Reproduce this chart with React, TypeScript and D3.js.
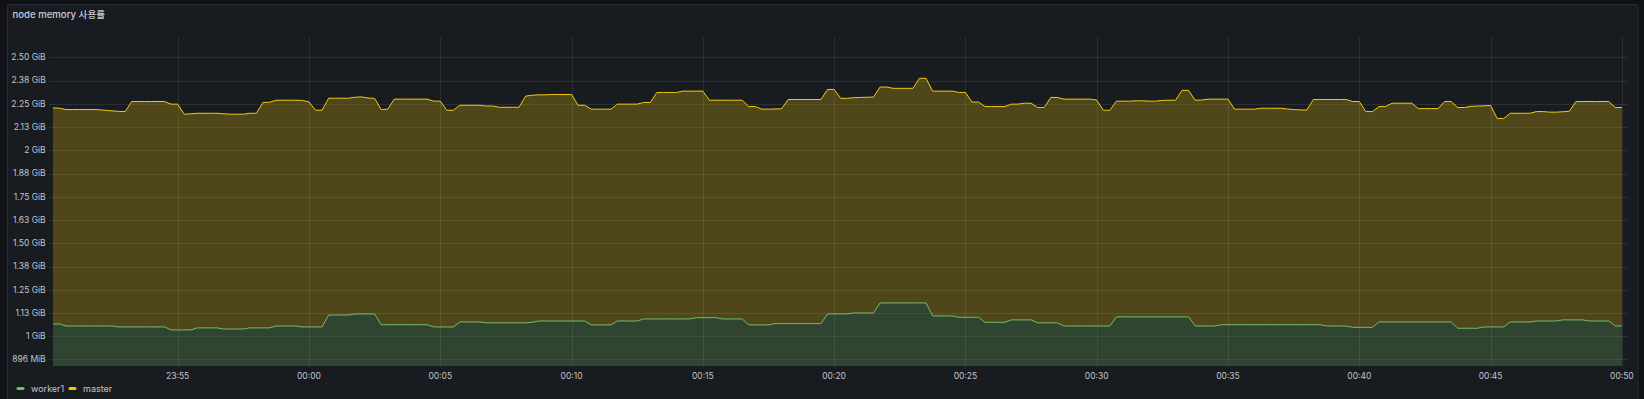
import { area, line, scaleLinear, scaleTime, timeFormat, timeMinute } from 'd3'

// samples every 15s, values in GiB
const workerValues = [
  1.066, 1.066, 1.055, 1.055, 1.055, 1.055, 1.055, 1.055, 1.055, 1.055,
  1.05, 1.05, 1.05, 1.05, 1.05, 1.05, 1.05, 1.05, 1.034, 1.034,
  1.034, 1.034, 1.045, 1.045, 1.045, 1.045, 1.039, 1.039, 1.039, 1.039,
  1.045, 1.045, 1.045, 1.045, 1.055, 1.055, 1.055, 1.055, 1.05, 1.05,
  1.05, 1.05, 1.114, 1.114, 1.114, 1.114, 1.12, 1.12, 1.12, 1.12,
  1.062, 1.062, 1.062, 1.062, 1.062, 1.062, 1.062, 1.062, 1.05, 1.05,
  1.05, 1.05, 1.077, 1.077, 1.077, 1.077, 1.072, 1.072, 1.072, 1.072,
  1.072, 1.072, 1.072, 1.075, 1.082, 1.082, 1.082, 1.082, 1.082, 1.082,
  1.082, 1.082, 1.061, 1.061, 1.061, 1.061, 1.082, 1.082, 1.082, 1.082,
  1.093, 1.093, 1.093, 1.093, 1.093, 1.093, 1.093, 1.093, 1.1, 1.1,
  1.1, 1.1, 1.093, 1.093, 1.093, 1.093, 1.061, 1.061, 1.061, 1.061,
  1.068, 1.068, 1.068, 1.068, 1.068, 1.068, 1.068, 1.068, 1.12, 1.12,
  1.12, 1.12, 1.125, 1.125, 1.125, 1.125, 1.179, 1.179, 1.179, 1.179,
  1.179, 1.179, 1.179, 1.179, 1.109, 1.109, 1.109, 1.109, 1.102, 1.102,
  1.102, 1.102, 1.075, 1.075, 1.075, 1.075, 1.088, 1.088, 1.088, 1.088,
  1.072, 1.072, 1.072, 1.072, 1.055, 1.055, 1.055, 1.055, 1.055, 1.055,
  1.055, 1.055, 1.104, 1.104, 1.104, 1.104, 1.104, 1.104, 1.104, 1.104,
  1.104, 1.104, 1.104, 1.104, 1.055, 1.055, 1.055, 1.055, 1.062, 1.062,
  1.062, 1.062, 1.062, 1.062, 1.062, 1.062, 1.062, 1.062, 1.062, 1.062,
  1.062, 1.062, 1.062, 1.062, 1.055, 1.055, 1.055, 1.055, 1.048, 1.048,
  1.048, 1.048, 1.077, 1.077, 1.077, 1.077, 1.077, 1.077, 1.077, 1.077,
  1.077, 1.077, 1.077, 1.077, 1.043, 1.043, 1.043, 1.043, 1.05, 1.05,
  1.05, 1.05, 1.077, 1.077, 1.077, 1.077, 1.082, 1.082, 1.082, 1.082,
  1.088, 1.088, 1.088, 1.088, 1.082, 1.082, 1.082, 1.082, 1.055, 1.055,
]

// master is stacked on worker1, these are the stacked tops
const masterStacked = [
  2.228, 2.226, 2.219, 2.219, 2.219, 2.219, 2.219, 2.218, 2.215, 2.212,
  2.209, 2.208, 2.262, 2.262, 2.262, 2.262, 2.262, 2.262, 2.248, 2.248,
  2.194, 2.196, 2.199, 2.199, 2.199, 2.199, 2.196, 2.194, 2.194, 2.194,
  2.199, 2.199, 2.257, 2.258, 2.269, 2.269, 2.269, 2.269, 2.268, 2.26,
  2.215, 2.216, 2.28, 2.28, 2.28, 2.28, 2.285, 2.287, 2.281, 2.279,
  2.219, 2.221, 2.275, 2.275, 2.275, 2.275, 2.275, 2.275, 2.264, 2.264,
  2.215, 2.215, 2.242, 2.242, 2.242, 2.242, 2.238, 2.238, 2.231, 2.231,
  2.231, 2.231, 2.291, 2.296, 2.298, 2.298, 2.3, 2.3, 2.3, 2.3,
  2.242, 2.242, 2.221, 2.221, 2.221, 2.221, 2.248, 2.248, 2.248, 2.248,
  2.257, 2.257, 2.311, 2.311, 2.311, 2.311, 2.318, 2.318, 2.318, 2.318,
  2.269, 2.269, 2.269, 2.269, 2.269, 2.269, 2.235, 2.235, 2.221, 2.221,
  2.222, 2.223, 2.273, 2.273, 2.273, 2.273, 2.273, 2.273, 2.327, 2.327,
  2.279, 2.279, 2.283, 2.284, 2.285, 2.286, 2.34, 2.34, 2.333, 2.333,
  2.333, 2.333, 2.387, 2.387, 2.318, 2.318, 2.318, 2.318, 2.311, 2.311,
  2.259, 2.259, 2.235, 2.235, 2.235, 2.235, 2.248, 2.248, 2.253, 2.253,
  2.23, 2.23, 2.284, 2.284, 2.275, 2.275, 2.275, 2.275, 2.275, 2.27,
  2.215, 2.215, 2.264, 2.264, 2.264, 2.266, 2.266, 2.264, 2.264, 2.268,
  2.269, 2.269, 2.322, 2.322, 2.269, 2.27, 2.275, 2.275, 2.275, 2.275,
  2.221, 2.221, 2.221, 2.221, 2.226, 2.226, 2.226, 2.226, 2.222, 2.219,
  2.217, 2.216, 2.273, 2.273, 2.273, 2.273, 2.273, 2.273, 2.262, 2.262,
  2.208, 2.208, 2.235, 2.235, 2.253, 2.253, 2.253, 2.253, 2.224, 2.224,
  2.224, 2.224, 2.262, 2.262, 2.23, 2.23, 2.236, 2.238, 2.239, 2.241,
  2.171, 2.171, 2.199, 2.199, 2.199, 2.199, 2.208, 2.208, 2.205, 2.205,
  2.207, 2.21, 2.262, 2.262, 2.262, 2.262, 2.262, 2.262, 2.23, 2.23,
]

const yTickValues = [0.875, 1, 1.125, 1.25, 1.375, 1.5, 1.625, 1.75, 1.875, 2, 2.125, 2.25, 2.375, 2.5]
const yTickLabels = [
  '896 MiB', '1 GiB', '1.13 GiB', '1.25 GiB', '1.38 GiB', '1.50 GiB', '1.63 GiB',
  '1.75 GiB', '1.88 GiB', '2 GiB', '2.13 GiB', '2.25 GiB', '2.38 GiB', '2.50 GiB',
]
const seriesNames = ['worker1', 'master']

const firstSample = new Date(2024, 0, 1, 23, 50, 15).getTime()
const stepMs = 15000
const rangeStart = new Date(2024, 0, 1, 23, 50, 6)
const rangeEnd = new Date(2024, 0, 2, 0, 50, 14)

const width = 1644
const height = 399
const plot = { left: 49, right: 1628, top: 37, bottom: 366 }

const green = '#73BF69'
const yellow = '#F2CC0C'
const gridColor = 'rgba(240, 250, 255, 0.09)'
const textColor = '#c2c5cc'
const font = "Inter, 'Noto Sans CJK KR', sans-serif"

type Point = { t: Date; worker: number; master: number }

function App() {
  const points: Point[] = workerValues.map((worker, i) => ({
    t: new Date(firstSample + i * stepMs),
    worker,
    master: masterStacked[i],
  }))

  const xScale = scaleTime().domain([rangeStart, rangeEnd]).range([plot.left, plot.right])
  const yScale = scaleLinear().domain([0.84, 2.609]).range([plot.bottom, plot.top])
  const xTicks = xScale.ticks(timeMinute.every(5)!)
  const fmt = timeFormat('%H:%M')

  const workerArea = area<Point>()
    .x((d) => xScale(d.t))
    .y0(plot.bottom)
    .y1((d) => yScale(d.worker))
  const masterArea = area<Point>()
    .x((d) => xScale(d.t))
    .y0((d) => yScale(d.worker))
    .y1((d) => yScale(d.master))
  const workerLine = line<Point>()
    .x((d) => xScale(d.t))
    .y((d) => yScale(d.worker))
  const masterLine = line<Point>()
    .x((d) => xScale(d.t))
    .y((d) => yScale(d.master))

  const colors = [green, yellow]
  const legendX = [16.5, 68.5]

  return (
    <svg
      width={width}
      height={height}
      style={{ position: 'absolute', left: 0, top: 0, fontFamily: font }}
    >
      <rect x={0} y={0} width={width} height={height} fill="#111217" />
      <rect
        x={7.5}
        y={4.5}
        width={1630.5}
        height={400}
        rx={2}
        fill="#181b1f"
        stroke="#2a2d33"
      />
      <text x={12.5} y={17.7} fontSize={9.6} fontWeight={500} fill="#ccccdc">
        node memory 사용률
      </text>

      {yTickValues.map((tick) => (
        <line
          key={tick}
          x1={plot.left}
          x2={plot.right}
          y1={Math.round(yScale(tick)) + 0.5}
          y2={Math.round(yScale(tick)) + 0.5}
          stroke={gridColor}
        />
      ))}
      {xTicks.map((tick) => (
        <line
          key={tick.getTime()}
          x1={Math.round(xScale(tick)) + 0.5}
          x2={Math.round(xScale(tick)) + 0.5}
          y1={plot.top}
          y2={plot.bottom}
          stroke={gridColor}
        />
      ))}

      <path d={masterArea(points) ?? ''} fill={yellow} fillOpacity={0.25} />
      <path d={workerArea(points) ?? ''} fill={green} fillOpacity={0.25} />
      <path d={masterLine(points) ?? ''} fill="none" stroke={yellow} strokeWidth={1} />
      <path d={workerLine(points) ?? ''} fill="none" stroke={green} strokeWidth={1} />

      {yTickValues.map((tick, i) => (
        <text
          key={`${tick}-label`}
          x={45.7}
          y={yScale(tick)}
          dy="0.35em"
          textAnchor="end"
          fontSize={8.5}
          fill={textColor}
        >
          {yTickLabels[i]}
        </text>
      ))}
      {xTicks.map((tick) => (
        <text
          key={`${tick.getTime()}-label`}
          x={xScale(tick)}
          y={378.5}
          textAnchor="middle"
          fontSize={8.5}
          fill={textColor}
        >
          {fmt(tick)}
        </text>
      ))}

      {seriesNames.map((name, i) => (
        <g key={name}>
          <rect x={legendX[i]} y={387} width={8} height={3} rx={1.5} fill={colors[i]} />
          <text x={legendX[i] + 14.5} y={388.5} dy="0.35em" fontSize={9} fill={textColor}>
            {name}
          </text>
        </g>
      ))}
    </svg>
  )
}

export default App
